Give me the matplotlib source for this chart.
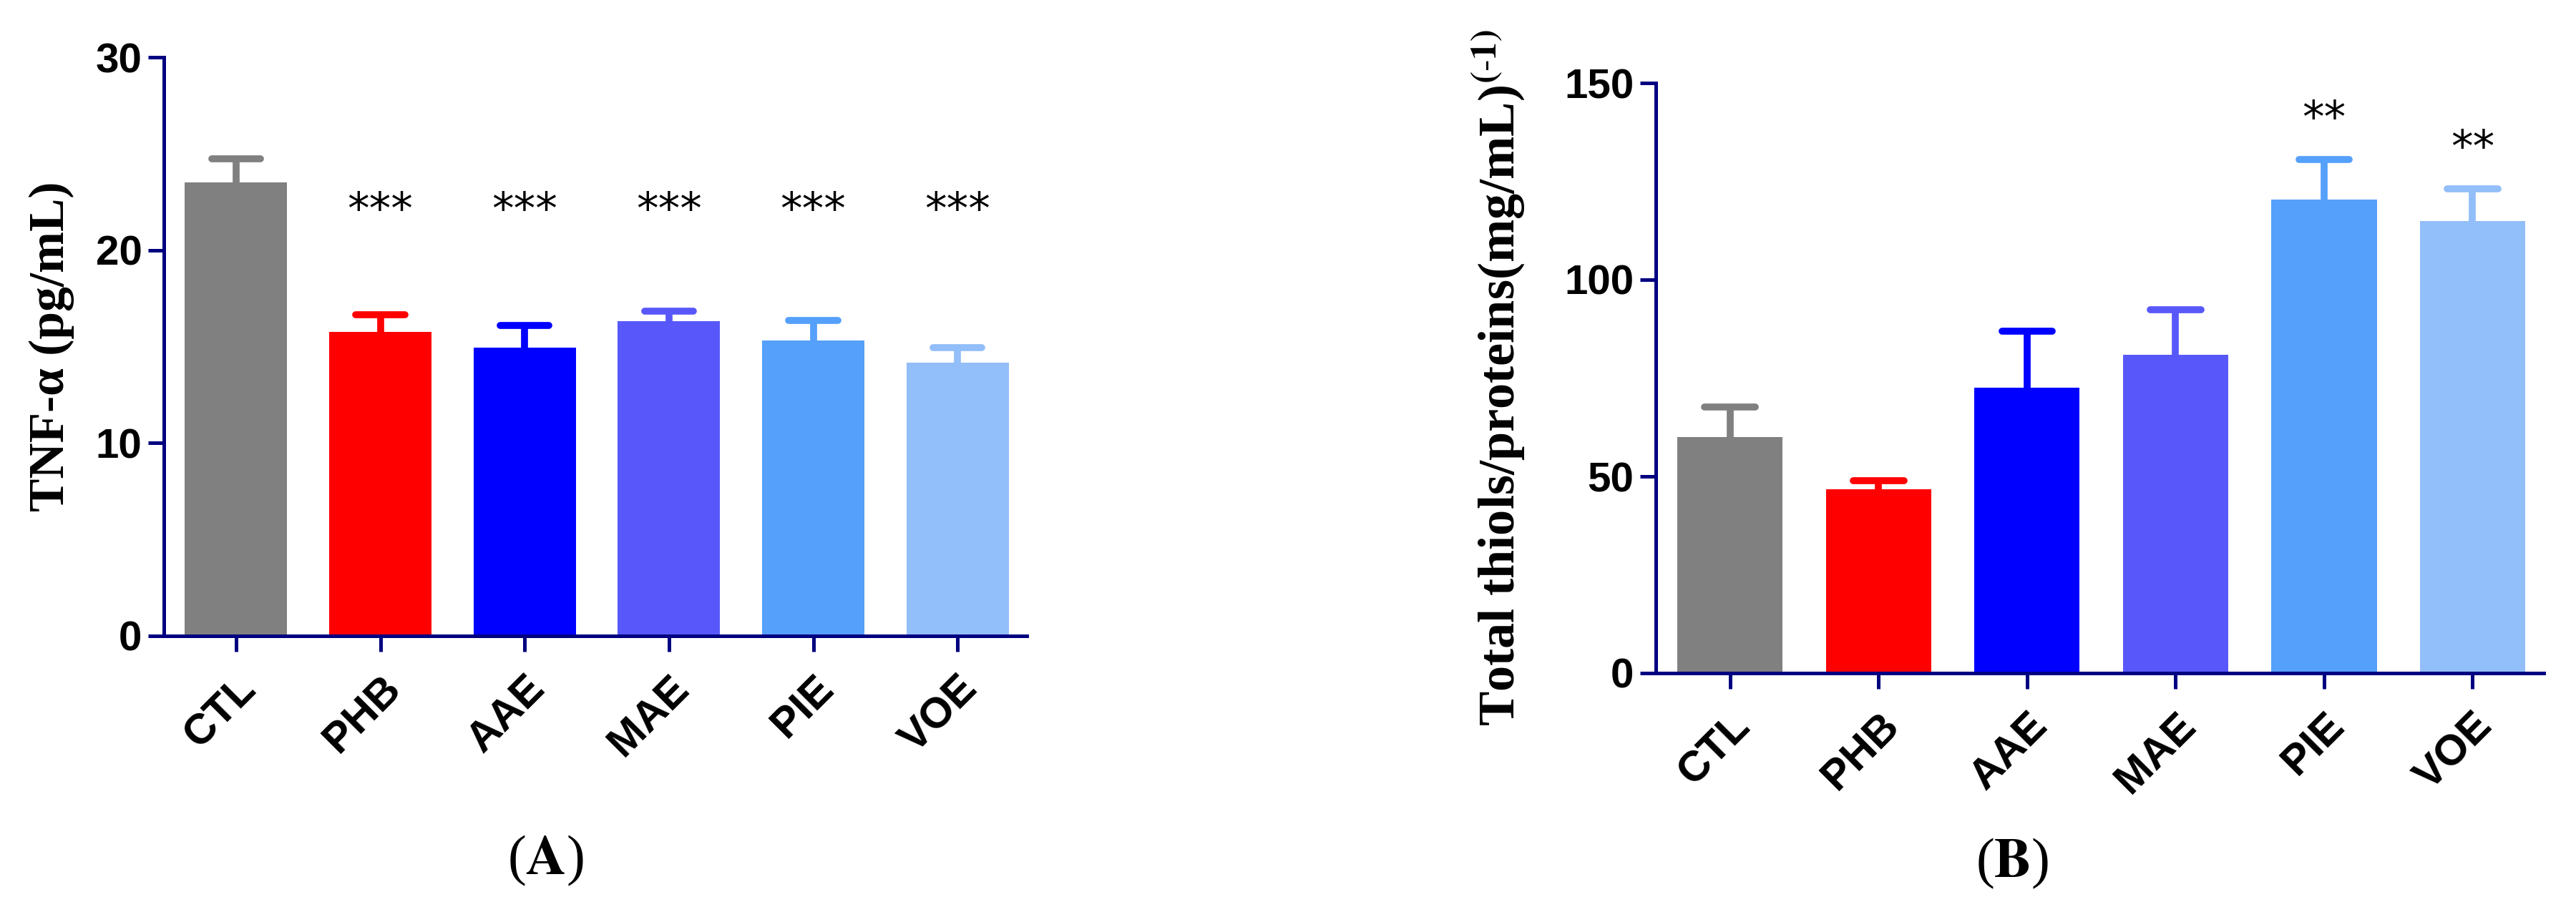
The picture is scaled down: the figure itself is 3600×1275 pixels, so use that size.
import matplotlib
matplotlib.use("Agg")
import matplotlib.pyplot as plt
import matplotlib.transforms as mtransforms
import numpy as np

plt.rcParams['mathtext.fontset'] = 'stix'

groups = ['CTL', 'PHB', 'AAE', 'MAE', 'PIE', 'VOE']
colors = ['#808080', '#FF0000', '#0000FF', '#5858FA', '#55A0FA', '#92BEF9']

tnf_mean = [23.5, 15.75, 14.95, 16.3, 15.3, 14.15]
tnf_err = [1.25, 0.9, 1.15, 0.55, 1.05, 0.8]
tnf_sig = ['', '***', '***', '***', '***', '***']

thiol_mean = [60.0, 46.8, 72.5, 80.9, 120.3, 115.0]
thiol_err = [7.6, 2.2, 14.5, 11.4, 10.3, 8.1]
thiol_sig = ['', '', '', '', '**', '**']

AXC = '#000080'
W, H = 3600, 1275
fig = plt.figure(figsize=(W / 100, H / 100), dpi=100)

axA = fig.add_axes([229 / W, 1 - 889 / H, (1435 - 229) / W, (889 - 80) / H])
axB = fig.add_axes([2314 / W, 1 - 941 / H, (3555 - 2314) / W, (941 - 116) / H])


def draw(ax, means, errs, sig, ymax, step, ylabel, ylabel_size, label_x,
         star_y):
    x = np.arange(len(groups))
    ax.bar(x, means, width=0.71, color=colors, zorder=2)
    for i in range(len(groups)):
        top = means[i] + errs[i]
        ax.plot([x[i], x[i]], [means[i], top], color=colors[i], lw=7,
                solid_capstyle='butt', zorder=1)
        ax.plot([x[i] - 0.17, x[i] + 0.17], [top, top], color=colors[i],
                lw=7, solid_capstyle='round', zorder=1)
    for i, s in enumerate(sig):
        if s:
            yy = star_y(i)
            ax.text(x[i], yy, s, ha='center', va='center', fontsize=44,
                    family='DejaVu Sans', color='black')
    ax.set_xlim(-0.5, 5.48)
    ax.set_ylim(0, ymax)
    ax.set_yticks(np.arange(0, ymax + 1, step))
    ax.set_xticks(x)
    ax.set_xticklabels(groups, rotation=45, ha='right', rotation_mode='anchor',
                       fontsize=43, fontweight='bold', family='Liberation Sans')
    off = mtransforms.ScaledTranslation(-20 / 72, 0, fig.dpi_scale_trans)
    for t in ax.get_xticklabels():
        t.set_transform(t.get_transform() + off)
    for t in ax.get_yticklabels():
        t.set_fontsize(42)
        t.set_fontweight('bold')
        t.set_family('Liberation Sans')
    for side in ['top', 'right']:
        ax.spines[side].set_visible(False)
    for side in ['left', 'bottom']:
        ax.spines[side].set_color(AXC)
        ax.spines[side].set_linewidth(3.6)
    ax.tick_params(axis='both', colors=AXC, length=16, width=3.6,
                   labelcolor='black')
    ax.tick_params(axis='y', pad=6)
    ax.tick_params(axis='x', pad=17)
    ax.set_ylabel(ylabel, fontsize=ylabel_size, fontweight='bold',
                  family='Liberation Serif')
    ax.yaxis.set_label_coords(label_x, 0.5)


draw(axA, tnf_mean, tnf_err, tnf_sig, 30, 10, 'TNF-α (pg/mL)', 50, -0.104,
     lambda i: 22.0)
draw(axB, thiol_mean, thiol_err, thiol_sig, 150, 50,
     r'Total thiols/proteins(mg/mL)$^{\mathbf{(}\text{-}\mathbf{1)}}$', 52,
     -0.145, lambda i: thiol_mean[i] + thiol_err[i] + 10)

fig.text(762 / W, 1 - 1203 / H, r'($\mathbf{A}$)', ha='center', va='center',
         fontsize=56, family='Liberation Serif')
fig.text(2812 / W, 1 - 1207 / H, r'($\mathbf{B}$)', ha='center', va='center',
         fontsize=56, family='Liberation Serif')

fig.savefig('out.png', dpi=100, facecolor='white')
